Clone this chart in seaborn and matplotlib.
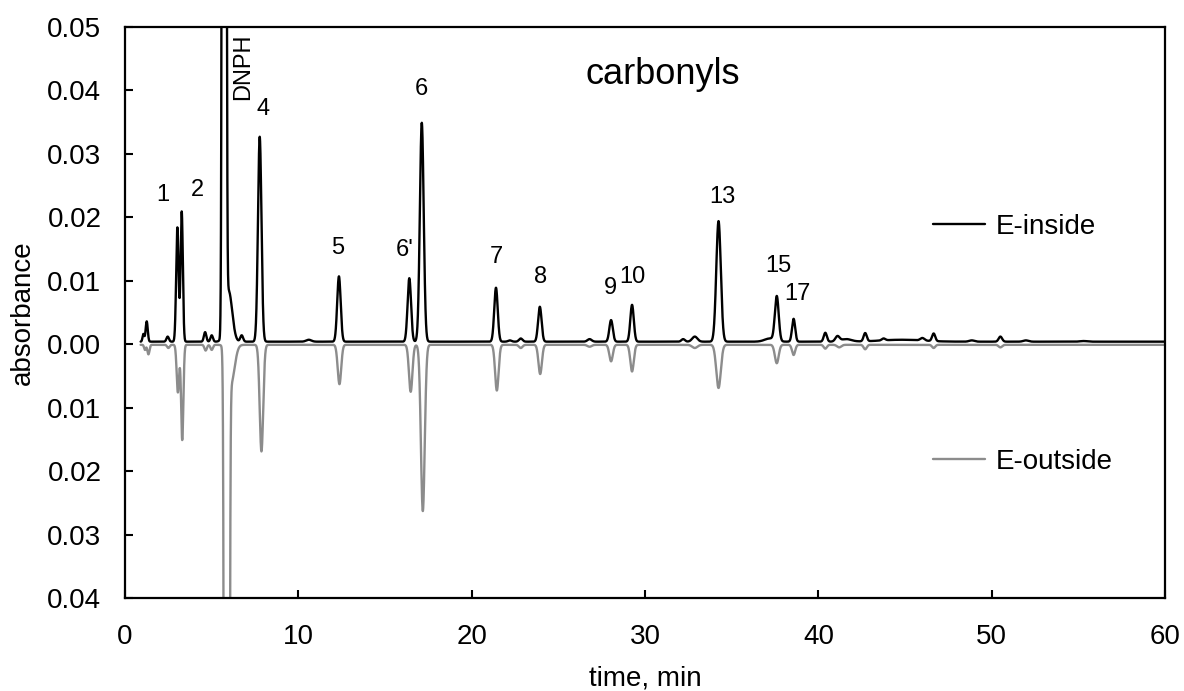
import numpy as np
import pandas as pd
import matplotlib
matplotlib.use("Agg")
import matplotlib.pyplot as plt
from matplotlib.lines import Line2D
from matplotlib.ticker import FuncFormatter, MultipleLocator
import seaborn as sns

# peak table: retention time (min), height (absorbance), width (sigma, min)
inside_time = [1.06, 1.25, 2.46, 3.02, 3.27, 4.62, 5.00, 5.72, 5.98, 6.73, 7.77, 10.6,
               12.34, 16.40, 17.12, 21.40, 22.20, 22.83, 23.93, 26.8, 28.04, 29.25, 32.2,
               32.87, 34.24, 37.2, 37.60, 38.57, 40.4, 41.1, 41.6, 42.7, 43.76, 44.8,
               46.0, 46.65, 48.85, 50.5, 51.97, 55.3]
inside_height = [0.0012, 0.0032, 0.0008, 0.0180, 0.0205, 0.0015, 0.0010, 1.0, 0.008, 0.0010,
                 0.0323, 0.0003, 0.0103, 0.0100, 0.0345, 0.0085, 0.0002, 0.0005, 0.0055,
                 0.0004, 0.0034, 0.0058, 0.0004, 0.0008, 0.0190, 0.0005, 0.0070, 0.0036,
                 0.0014, 0.0008, 0.0004, 0.0013, 0.0003, 0.0003, 0.0004, 0.0012, 0.0002,
                 0.0008, 0.0002, 0.0001]
inside_width = [0.05, 0.06, 0.07, 0.07, 0.065, 0.07, 0.07, 0.065, 0.2, 0.08, 0.10, 0.15,
                0.10, 0.10, 0.11, 0.10, 0.10, 0.10, 0.10, 0.12, 0.10, 0.10, 0.10, 0.15,
                0.13, 0.30, 0.11, 0.09, 0.09, 0.12, 0.30, 0.09, 0.10, 1.20, 0.12, 0.09,
                0.15, 0.10, 0.15, 0.20]
inside_base = 0.0004

outside_time = [1.15, 1.35, 2.5, 3.05, 3.30, 4.65, 5.0, 5.87, 6.12, 7.87, 12.37, 16.48,
                17.18, 21.45, 22.83, 23.95, 26.8, 28.04, 29.25, 32.87, 34.24, 37.6, 38.57,
                40.4, 41.2, 42.7, 46.65, 50.5]
outside_height = [0.0008, 0.0015, 0.0005, 0.0075, 0.0150, 0.0009, 0.0008, 1.0, 0.006,
                  0.0168, 0.0062, 0.0074, 0.0262, 0.0072, 0.0005, 0.0046, 0.0003, 0.0026,
                  0.0042, 0.0005, 0.0068, 0.0029, 0.0016, 0.0006, 0.0004, 0.0007, 0.0005,
                  0.0004]
outside_width = [0.05, 0.06, 0.07, 0.07, 0.065, 0.07, 0.07, 0.075, 0.2, 0.10, 0.10, 0.10,
                 0.11, 0.10, 0.10, 0.10, 0.12, 0.10, 0.10, 0.15, 0.13, 0.11, 0.09, 0.09,
                 0.12, 0.09, 0.09, 0.10]
outside_base = 0.0001

peak_labels = ['1', '2', '4', '5', "6'", '6', '7', '8', '9', '10', '13', '15', '17']
label_t = [2.19, 4.15, 7.95, 12.27, 16.16, 17.12, 21.41, 23.95, 28.0, 29.27, 34.45, 37.7, 38.82]
label_y = [0.0235, 0.0243, 0.0370, 0.0151, 0.0149, 0.0402, 0.0137, 0.0106, 0.0089, 0.0106,
           0.0232, 0.0123, 0.0079]

t = np.linspace(0.9, 60, 15000)


def trace(times, heights, widths, base):
    y = np.full_like(t, base)
    for c, h, w in zip(times, heights, widths):
        y += h * np.exp(-0.5 * ((t - c) / w) ** 2)
    return y


inside = trace(inside_time, inside_height, inside_width, inside_base)
outside = -trace(outside_time, outside_height, outside_width, outside_base)

df = pd.DataFrame({
    'time': np.concatenate([t, t]),
    'absorbance': np.concatenate([outside, inside]),
    'sample': ['E-outside'] * len(t) + ['E-inside'] * len(t),
})

sns.set_style("ticks")
plt.rcParams['font.family'] = ['Liberation Sans', 'DejaVu Sans']
plt.rcParams['text.color'] = 'black'
plt.rcParams['axes.labelcolor'] = 'black'
plt.rcParams['xtick.color'] = 'black'
plt.rcParams['ytick.color'] = 'black'

fig = plt.figure(figsize=(11.84, 6.91), dpi=100)
ax = fig.add_axes([0.1056, 0.1346, 0.8784, 0.8264])

colors = {'E-inside': 'black', 'E-outside': '#8c8c8c'}
sns.lineplot(data=df, x='time', y='absorbance', hue='sample',
             hue_order=['E-outside', 'E-inside'], palette=colors,
             estimator=None, sort=False, linewidth=1.7, legend=False, ax=ax)

ax.set_xlim(0, 60)
ax.set_ylim(-0.04, 0.05)
ax.xaxis.set_major_locator(MultipleLocator(10))
ax.yaxis.set_major_locator(MultipleLocator(0.01))
ax.yaxis.set_major_formatter(FuncFormatter(lambda v, _: f"{abs(v):.2f}"))
ax.tick_params(direction='in', length=6, width=1.5, labelsize=20, color='black',
               labelcolor='black')
ax.tick_params(axis='y', pad=17)
ax.tick_params(axis='x', pad=19)
for s in ax.spines.values():
    s.set_linewidth(1.6)
    s.set_color('black')

ax.set_xlabel('time, min', fontsize=20, labelpad=11, color='black')
ax.set_ylabel('absorbance', fontsize=20, labelpad=8, color='black')

for lab, x, y in zip(peak_labels, label_t, label_y):
    ax.text(x, y, lab, fontsize=17, ha='center', va='center', color='black')
ax.text(6.81, 0.0438, 'DNPH', fontsize=17, rotation=90, ha='center', va='center',
        color='black')
ax.text(31.0, 0.0410, 'carbonyls', fontsize=26, ha='center', va='baseline', color='black')

leg1 = ax.legend(handles=[Line2D([], [], color='black', lw=1.7)], labels=['E-inside'],
                 loc='center left', bbox_to_anchor=(0.777, 0.650), frameon=False,
                 fontsize=20, handlelength=1.85, handletextpad=0.4,
                 borderpad=0, borderaxespad=0)
ax.add_artist(leg1)
ax.legend(handles=[Line2D([], [], color='#8c8c8c', lw=1.7)], labels=['E-outside'],
          loc='center left', bbox_to_anchor=(0.777, 0.239), frameon=False,
          fontsize=20, handlelength=1.85, handletextpad=0.4,
          borderpad=0, borderaxespad=0)

fig.savefig('out.png', dpi=100)
